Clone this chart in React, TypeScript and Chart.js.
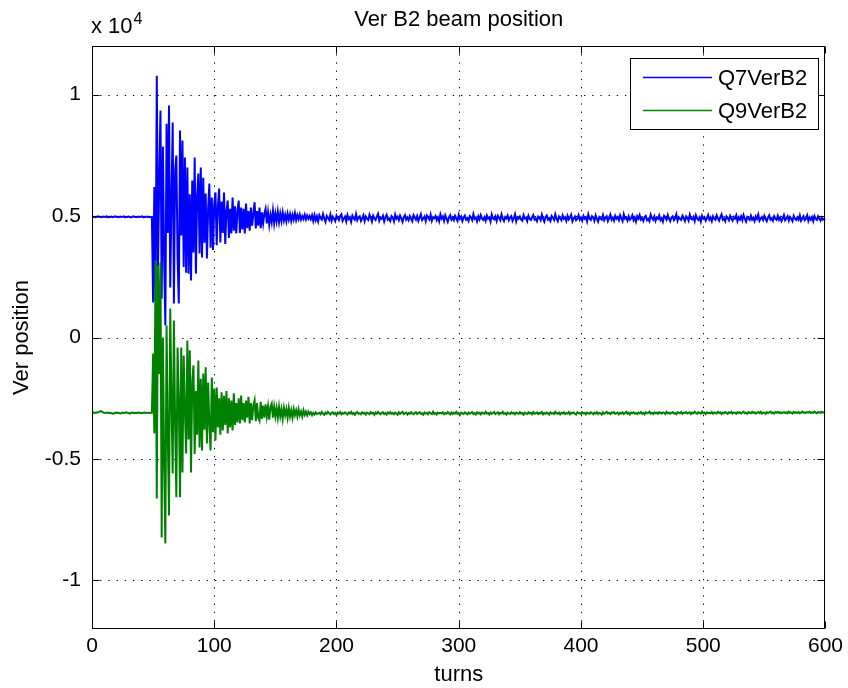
import { useEffect, useRef } from "react";
import { Chart, registerables } from "chart.js";

Chart.register(...registerables);

const FONT = '"Liberation Sans", Arial, Helvetica, sans-serif';

const chartTitle = "Ver B2 beam position";
const xTitle = "turns";
const yTitle = "Ver position";
const yExponent = "4";
const xTicks = [0, 100, 200, 300, 400, 500, 600];
const yTicks = [-10000, -5000, 0, 5000, 10000];
const seriesLabels = ["Q7VerB2", "Q9VerB2"];
const seriesColors = ["#0000ff", "#008000"];

// Q7VerB2, turns 0-48
const q7Pre = [
  4980, 4960, 4970, 4950, 4970, 4990, 4960, 4970, 4950, 4980,
  4970, 4960, 4990, 4950, 4970, 4960, 4980, 4950, 4970, 4990,
  4960, 4970, 4950, 4980, 4960, 4970, 4990, 4950, 4970, 4960,
  4980, 4960, 4940, 4970, 4990, 4960, 4970, 4950, 4980, 4960,
  4970, 4990, 4950, 4970, 4960, 4980, 4960, 4970, 4950,
];
// Q7VerB2, turns 49-180
const q7Kick = [
  4960, 1440, 6200, 1520, 10780, 2880, 6500, 9340, 1600, 7860,
  3200, 490, 8800, 4300, 9550, 2060, 5600, 8850, 1400, 6870,
  7490, 3300, 1400, 8520, 4200, 8110, 2900, 7410, 2670, 7000,
  2630, 5900, 2350, 6460, 3500, 7410, 2630, 5800, 6750, 3460,
  7000, 3290, 6580, 3900, 5930, 3250, 5300, 6340, 3700, 5760,
  3600, 5500, 5970, 3800, 5400, 6130, 3910, 5600, 4300, 5970,
  3850, 5200, 5640, 4100, 5300, 4280, 5760, 4400, 5400, 4280,
  5200, 5640, 4300, 5350, 4450, 5300, 4280, 5510, 4500, 5200,
  4400, 5350, 4600, 5100, 5570, 4490, 5200, 4600, 5350, 4500,
  5150, 4700, 5100, 5300, 4700, 5150, 4650, 5050, 4750, 5220,
  4700, 5100, 4780, 5180, 4750, 5100, 4800, 5150, 4820, 5050,
  4780, 5100, 4850, 5080, 4800, 5050, 4850, 5120, 4830, 5040,
  4870, 5060, 4850, 5000, 4880, 5050, 4860, 5020, 4890, 5000,
  4870, 5030,
];
// Q7VerB2, turns 181-600
const q7Settled = [
  4800, 5040, 4830, 4990, 4780, 5030, 4920, 4850, 5080, 4900, 4760, 5010, 4930, 4840, 5060, 4800, 4970, 4890, 4790, 5020,
  4930, 4830, 4990, 5070, 4800, 4900, 4980, 4780, 5040, 4880, 4950, 4760, 5010, 4900, 4850, 5080, 4830, 4950, 4990, 4800,
  4900, 5030, 4790, 4980, 4890, 4840, 5060, 4930, 4770, 5010, 4900, 4840, 4980, 5090, 4800, 4930, 4890, 5010, 4780, 4950,
  5050, 4850, 4900, 4800, 5000, 4940, 4780, 5060, 4890, 4970, 4830, 5020, 4900, 4760, 4950, 5040, 4850, 4940, 4830, 5000,
  4890, 4790, 5040, 4950, 4850, 5000, 4800, 4940, 5080, 4830, 4900, 4980, 4790, 5020, 4940, 4860, 5060, 4800, 4950, 4910,
  5000, 4830, 4940, 4780, 5070, 4900, 4980, 4800, 5030, 4890, 4760, 4950, 5040, 4850, 4940, 4830, 5010, 4900, 4800, 5050,
  4890, 4980, 4790, 4940, 5020, 4850, 4910, 4800, 5000, 4950, 4830, 5080, 4890, 4940, 4780, 4980, 4860, 5040, 4900, 4840,
  4950, 4800, 5020, 4890, 4940, 4770, 5060, 4900, 4860, 4980, 4800, 5010, 4930, 4830, 5070, 4890, 4790, 4960, 4900, 5020,
  4830, 4940, 5000, 4800, 4910, 5070, 4780, 4950, 4890, 4980, 4860, 4810, 5040, 4900, 4930, 4790, 5010, 4890, 4840, 4950,
  5040, 4850, 4900, 4790, 4980, 4940, 4830, 5060, 4890, 4770, 4950, 5020, 4850, 4910, 4800, 5000, 4930, 4840, 5070, 4890,
  4790, 4980, 4910, 4830, 5030, 4890, 4950, 4800, 5010, 4860, 4940, 5050, 4780, 4900, 4980, 4830, 4890, 5040, 4850, 4940,
  4810, 5000, 4890, 4950, 4780, 5070, 4900, 4840, 4990, 4930, 4800, 5030, 4890, 4770, 4960, 4900, 4850, 5040, 4830, 4940,
  4990, 4790, 4910, 5060, 4850, 4940, 4810, 5010, 4890, 4960, 4830, 5030, 4900, 4790, 5070, 4890, 4940, 4810, 4990, 4850,
  4910, 5030, 4830, 4940, 4770, 4990, 4890, 5040, 4850, 4910, 4800, 4960, 5010, 4830, 4890, 4790, 5060, 4930, 4850, 4990,
  4800, 4940, 4890, 5030, 4830, 4910, 4770, 5010, 4950, 4850, 5040, 4890, 4790, 4940, 4990, 4830, 4910, 5070, 4810, 4950,
  4890, 4840, 5010, 4910, 4790, 4990, 4930, 4810, 5060, 4890, 4860, 4960, 4790, 5030, 4900, 4840, 4940, 4770, 5010, 4890,
  4950, 4810, 4910, 5040, 4850, 4940, 4790, 4990, 4890, 4840, 5030, 4910, 4810, 4960, 5070, 4850, 4900, 4790, 4990, 4930,
  4830, 5010, 4890, 4810, 4960, 4900, 5030, 4790, 4940, 4850, 4990, 4830, 5040, 4890, 4770, 4960, 4900, 4840, 5010, 4850,
  4930, 4790, 4990, 4890, 5060, 4810, 4910, 4960, 4840, 5010, 4890, 4790, 4940, 5030, 4850, 4910, 4810, 4990, 4890, 4840,
  5010, 4850, 4940, 4790, 4890, 5040, 4830, 4910, 4990, 4810, 4960, 4890, 4790, 5010, 4900, 4840, 4940, 4850, 5030, 4810,
  4900, 4990, 4830, 4890, 5030, 4800, 4940, 4850, 4960, 4790, 5000, 4890, 4840, 4990, 4900, 4810, 4940, 4850, 4890, 4830,
];

// Q9VerB2, turns 0-48
const q9Pre = [
  -3100, -3090, -3100, -3110, -3090, -3080, -3060, -3030, -3040, -3080,
  -3100, -3110, -3100, -3090, -3110, -3100, -3120, -3140, -3130, -3100,
  -3090, -3110, -3100, -3130, -3120, -3090, -3110, -3100, -3080, -3100,
  -3110, -3130, -3100, -3090, -3110, -3100, -3120, -3100, -3090, -3110,
  -3100, -3120, -3100, -3090, -3110, -3100, -3100, -3110, -3100,
];
// Q9VerB2, turns 49-185
const q9Kick = [
  -3100, -660, -3950, 3170, -6630, 2960, -1500, 3090, -8230, 0,
  -5200, -8480, 490, -4000, -7330, 1190, -2500, -5600, 700, -3600,
  -6580, -410, -2500, -6580, -410, -5560, -740, -3000, -4770, -120,
  -4200, -530, -5560, -1800, -1150, -4800, -2200, -4000, -950, -4530,
  -1700, -4650, -1480, -3800, -1230, -4360, -1850, -3600, -4650, -1650,
  -3900, -2100, -4240, -2060, -3700, -2500, -4000, -2260, -3830, -2400,
  -3600, -2200, -3950, -2500, -3700, -2600, -3830, -2300, -3600, -2700,
  -3500, -2500, -3540, -2390, -3400, -2700, -3500, -2600, -3300, -2440,
  -3540, -2700, -3400, -2800, -2590, -3450, -2700, -3300, -3420, -2650,
  -3350, -2800, -3300, -2750, -3250, -2850, -3380, -2850, -2720, -3300,
  -2850, -3250,
  -2900, -3300, -2850, -3250, -2950, -3350, -2900, -3200, -2950, -3300,
  -2900, -3250, -3000, -3300, -2950, -3200, -3000, -3250, -2950, -3200,
  -3050, -3250, -3000, -3180, -3050, -3200, -3050, -3150, -3080, -3200,
  -3100, -3170, -3080, -3150, -3120,
];
// Q9VerB2, turns 186-600
const q9Settled = [
  -3100, -3160, -3070, -3130, -3180, -3090, -3140, -3060, -3120, -3170, -3100, -3080, -3150, -3110, -3190, -3090, -3130, -3070, -3160, -3110,
  -3140, -3080, -3120, -3170, -3090, -3130, -3060, -3150, -3110, -3180, -3100, -3070, -3140, -3120, -3160, -3080, -3130, -3100, -3170, -3090,
  -3120, -3150, -3070, -3130, -3100, -3180, -3090, -3140, -3060, -3120, -3160, -3100, -3080, -3150, -3110, -3170, -3090, -3130, -3070, -3140,
  -3110, -3160, -3090, -3120, -3180, -3080, -3140, -3100, -3060, -3150, -3120, -3090, -3170, -3110, -3140, -3070, -3130, -3160, -3100, -3080,
  -3150, -3110, -3070, -3140, -3120, -3180, -3090, -3130, -3100, -3160, -3080, -3120, -3150, -3060, -3140, -3110, -3170, -3090, -3120, -3100,
  -3130, -3080, -3160, -3110, -3140, -3070, -3120, -3170, -3090, -3150, -3100, -3130, -3060, -3140, -3110, -3180, -3090, -3120, -3150, -3080,
  -3120, -3160, -3090, -3140, -3100, -3070, -3150, -3110, -3170, -3080, -3130, -3100, -3160, -3090, -3120, -3140, -3060, -3130, -3110, -3170,
  -3090, -3140, -3110, -3070, -3150, -3120, -3080, -3160, -3100, -3130, -3060, -3140, -3110, -3170, -3090, -3120, -3150, -3080, -3130, -3100,
  -3160, -3090, -3120, -3140, -3070, -3130, -3110, -3180, -3090, -3120, -3150, -3080, -3130, -3100, -3160, -3070, -3140, -3110, -3090, -3150,
  -3100, -3130, -3070, -3160, -3110, -3140, -3090, -3120, -3170, -3080, -3130, -3110, -3150, -3060, -3120, -3140, -3090, -3160, -3100, -3130,
  -3080, -3150, -3110, -3130, -3070, -3160, -3100, -3120, -3090, -3140, -3170, -3080, -3120, -3110, -3150, -3070, -3130, -3100, -3160, -3090,
  -3120, -3140, -3080, -3110, -3160, -3090, -3130, -3070, -3150, -3100, -3120, -3170, -3080, -3140, -3110, -3060, -3130, -3100, -3150, -3090,
  -3110, -3070, -3140, -3120, -3090, -3160, -3100, -3130, -3080, -3150, -3110, -3060, -3140, -3100, -3170, -3090, -3120, -3080, -3130, -3110,
  -3150, -3090, -3120, -3070, -3140, -3100, -3160, -3080, -3120, -3110, -3050, -3130, -3100, -3150, -3080, -3120, -3090, -3140, -3070, -3110,
  -3130, -3080, -3100, -3150, -3060, -3120, -3090, -3140, -3100, -3070, -3130, -3110, -3160, -3080, -3100, -3120, -3060, -3140, -3090, -3110,
  -3070, -3130, -3100, -3080, -3150, -3090, -3120, -3060, -3110, -3140, -3080, -3100, -3130, -3050, -3120, -3090, -3150, -3080, -3110, -3100,
  -3120, -3070, -3140, -3090, -3100, -3130, -3060, -3110, -3080, -3150, -3090, -3120, -3070, -3100, -3140, -3080, -3110, -3060, -3130, -3090,
  -3100, -3140, -3070, -3110, -3080, -3130, -3090, -3050, -3120, -3100, -3140, -3070, -3090, -3120, -3060, -3110, -3080, -3130, -3100, -3070,
  -3110, -3060, -3130, -3090, -3100, -3140, -3070, -3110, -3080, -3050, -3120, -3090, -3130, -3070, -3100, -3060, -3110, -3080, -3120, -3090,
  -3070, -3110, -3080, -3120, -3050, -3100, -3090, -3130, -3060, -3100, -3080, -3110, -3070, -3120, -3090, -3050, -3100, -3080, -3110, -3070,
  -3090, -3060, -3110, -3080, -3100, -3050, -3090, -3120, -3070, -3080, -3100, -3060, -3090, -3070, -3080,
];

const q7VerB2 = [...q7Pre, ...q7Kick, ...q7Settled];
const q9VerB2 = [...q9Pre, ...q9Kick, ...q9Settled];
const seriesValues = [q7VerB2, q9VerB2];

const matlabPlugin = {
  id: "matlabAxes",
  beforeDatasetsDraw(chart: any) {
    const { ctx, chartArea: a, scales } = chart;
    const x = scales.x;
    const y = scales.y;
    ctx.save();
    ctx.strokeStyle = "#000";
    ctx.lineWidth = 1;
    ctx.setLineDash([1.3, 6.9]);
    for (const v of xTicks) {
      const px = Math.round(x.getPixelForValue(v)) + 0.5;
      if (px <= a.left + 1 || px >= a.right - 1) continue;
      ctx.beginPath();
      ctx.moveTo(px, a.top);
      ctx.lineTo(px, a.bottom);
      ctx.stroke();
    }
    for (const v of yTicks) {
      const py = Math.round(y.getPixelForValue(v)) + 0.5;
      ctx.beginPath();
      ctx.moveTo(a.left, py);
      ctx.lineTo(a.right, py);
      ctx.stroke();
    }
    ctx.restore();
  },
  afterDatasetsDraw(chart: any) {
    const { ctx, chartArea: a, scales } = chart;
    const x = scales.x;
    const y = scales.y;
    const L = Math.round(a.left) + 0.5;
    const R = Math.round(a.right) - 0.5;
    const T = Math.round(a.top) + 0.5;
    const B = Math.round(a.bottom) - 0.5;
    ctx.save();
    ctx.setLineDash([]);
    ctx.strokeStyle = "#000";
    ctx.lineWidth = 1;
    ctx.strokeRect(L, T, R - L, B - T);
    const tl = 7;
    ctx.beginPath();
    for (const v of xTicks) {
      const px = Math.round(x.getPixelForValue(v)) + 0.5;
      ctx.moveTo(px, B);
      ctx.lineTo(px, B - tl);
      ctx.moveTo(px, T);
      ctx.lineTo(px, T + tl);
    }
    for (const v of yTicks) {
      const py = Math.round(y.getPixelForValue(v)) + 0.5;
      ctx.moveTo(L, py);
      ctx.lineTo(L + tl, py);
      ctx.moveTo(R, py);
      ctx.lineTo(R - tl, py);
    }
    ctx.stroke();

    // legend box
    const lx = 630.5;
    const ly = 58.5;
    const lw = 188;
    const lh = 71;
    ctx.fillStyle = "#fff";
    ctx.fillRect(lx, ly, lw, lh);
    ctx.strokeRect(lx, ly, lw, lh);
    ctx.font = `22px ${FONT}`;
    ctx.textBaseline = "middle";
    ctx.textAlign = "left";
    chart.data.datasets.forEach((ds: any, i: number) => {
      const cy = Math.round(ly + 18 + i * 33) + 0.5;
      ctx.strokeStyle = ds.borderColor;
      ctx.lineWidth = 1.5;
      ctx.beginPath();
      ctx.moveTo(643, cy);
      ctx.lineTo(712, cy);
      ctx.stroke();
      ctx.fillStyle = "#000";
      ctx.fillText(ds.label, 718, cy + 1);
    });

    // exponent label
    ctx.fillStyle = "#000";
    ctx.textBaseline = "alphabetic";
    ctx.font = `22px ${FONT}`;
    const base = "x 10";
    ctx.fillText(base, a.left - 1, 33);
    const w = ctx.measureText(base).width;
    ctx.font = `16px ${FONT}`;
    ctx.fillText(yExponent, a.left - 1 + w + 1, 24);
    ctx.restore();
  },
};

export default function App() {
  const canvasRef = useRef<HTMLCanvasElement | null>(null);

  useEffect(() => {
    const canvas = canvasRef.current;
    if (!canvas) return;
    const datasets = seriesLabels.map((label, i) => ({
      label,
      data: seriesValues[i].map((v, t) => ({ x: t, y: v })),
      borderColor: seriesColors[i],
      backgroundColor: seriesColors[i],
      borderWidth: 2,
      pointRadius: 0,
      tension: 0,
      fill: false,
      order: seriesLabels.length - i,
    }));
    const chart = new Chart(canvas, {
      type: "line",
      data: { datasets },
      options: {
        responsive: false,
        animation: false,
        parsing: false,
        normalized: true,
        layout: { padding: { left: 0, right: 20, top: 0, bottom: 0 } },
        plugins: {
          legend: { display: false },
          tooltip: { enabled: false },
          title: {
            display: true,
            text: chartTitle,
            fullSize: false,
            color: "#000",
            font: { family: FONT, size: 22, weight: "normal", lineHeight: 1.2 },
            padding: { top: 7, bottom: 12.6 },
          },
        },
        scales: {
          x: {
            type: "linear",
            min: 0,
            max: 600,
            afterFit: (s: any) => {
              s.height = 59;
            },
            afterBuildTicks: (s: any) => {
              s.ticks = xTicks.map((v) => ({ value: v }));
            },
            grid: { display: false, drawTicks: false },
            border: { display: false },
            ticks: {
              color: "#000",
              padding: 5,
              maxRotation: 0,
              autoSkip: false,
              font: { family: FONT, size: 21 },
              callback: (v: any) => String(v),
            },
            title: {
              display: true,
              text: xTitle,
              color: "#000",
              font: { family: FONT, size: 22 },
              padding: { top: 0, bottom: 0 },
            },
          },
          y: {
            type: "linear",
            min: -12000,
            max: 12000,
            afterFit: (s: any) => {
              s.width = 92;
            },
            afterBuildTicks: (s: any) => {
              s.ticks = yTicks.map((v) => ({ value: v }));
            },
            grid: { display: false, drawTicks: false },
            border: { display: false },
            ticks: {
              color: "#000",
              padding: 11,
              autoSkip: false,
              font: { family: FONT, size: 21 },
              callback: (v: any) => String(Number(v) / 10000),
            },
            title: {
              display: true,
              text: yTitle,
              color: "#000",
              font: { family: FONT, size: 22 },
              padding: { top: 9, bottom: 0 },
            },
          },
        },
      },
      plugins: [matlabPlugin],
    });
    return () => chart.destroy();
  }, []);

  return (
    <div style={{ position: "fixed", left: 0, top: 0, width: 848, height: 688, background: "#fff" }}>
      <canvas ref={canvasRef} width={848} height={688} style={{ width: 848, height: 688, display: "block" }} />
    </div>
  );
}
